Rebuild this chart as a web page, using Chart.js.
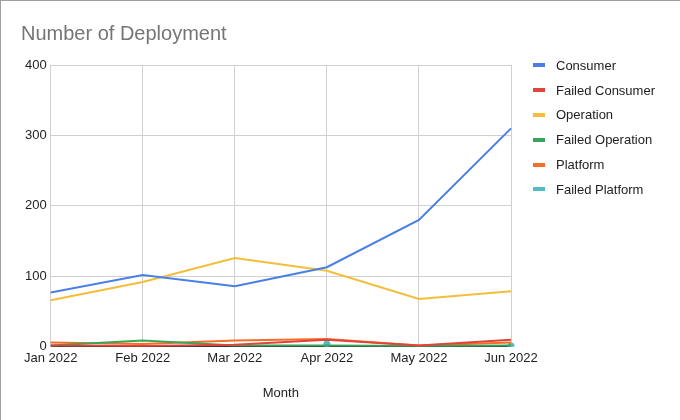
<!DOCTYPE html>
<html>
<head>
<meta charset="utf-8">
<script src="https://cdn.jsdelivr.net/npm/chart.js@4.4.1/dist/chart.umd.min.js"></script>
<style>
  html, body { margin: 0; padding: 0; background: #fff; }
  #wrap { position: relative; width: 679px; height: 419px; border-top: 1px solid #9e9e9e; border-left: 1px solid #9e9e9e; }
  #legend { position: absolute; left: 532px; top: 52px; font: 13px Arial, 'Liberation Sans', sans-serif; color: #222; }
  #legend div { height: 24.8px; display: flex; align-items: center; }
  #legend span.mark { display: inline-block; width: 12px; height: 4px; margin-right: 11px; }
</style>
</head>
<body>
<div id="wrap"><canvas id="chart"></canvas><div id="legend"></div></div>
<script>
// months on the x axis
const months = ["Jan 2022", "Feb 2022", "Mar 2022", "Apr 2022", "May 2022", "Jun 2022"];

// deployments per series
const consumer = [77, 102, 86, 113, 180, 310];
const failedConsumer = [2, 1, 3, 10, 2, 10];
const operation = [66, 92, 126, 108, 68, 79];
const failedOperation = [2, 9, 2, 2, 1, 2];
const platform = [6, 4, 9, 11, 2, 6];
const failedPlatform = [null, null, null, 4, null, 1];

const yTicks = [0, 100, 200, 300, 400];

const font = "Arial, 'Liberation Sans', sans-serif";

// a point that has no neighbour gets a dot, like Sheets does
function lonely(ctx) {
  const d = ctx.dataset.data;
  const i = ctx.dataIndex;
  if (d[i] == null) return 0;
  const prev = i > 0 ? d[i - 1] : null;
  const next = i < d.length - 1 ? d[i + 1] : null;
  return (prev == null && next == null) ? 2.5 : 0;
}

function series(label, data, color) {
  return {
    label,
    data,
    borderColor: color,
    backgroundColor: color,
    borderWidth: 2,
    pointRadius: lonely,
    pointHoverRadius: 0,
    tension: 0
  };
}

const chart = new Chart(document.getElementById("chart"), {
  type: "line",
  data: {
    labels: months,
    datasets: [
      series("Consumer", consumer, "#4a7fe6"),
      series("Failed Consumer", failedConsumer, "#e0443a"),
      series("Operation", operation, "#f4be3a"),
      series("Failed Operation", failedOperation, "#38a55a"),
      series("Platform", platform, "#f66d26"),
      series("Failed Platform", failedPlatform, "#4fbcc6")
    ]
  },
  options: {
    responsive: true,
    maintainAspectRatio: false,
    animation: false,
    layout: { padding: { left: 20, right: 169, top: 0, bottom: 15 } },
    plugins: {
      title: {
        display: true,
        text: "Number of Deployment",
        align: "start",
        color: "#757575",
        font: { family: font, size: 20, weight: "normal" },
        padding: { top: 21, bottom: 19 }
      },
      legend: { display: false },
      tooltip: { enabled: false }
    },
    scales: {
      x: {
        offset: false,
        grid: { color: "#d0d0d0", drawTicks: false },
        border: { display: false },
        ticks: { color: "#222", padding: 4, maxRotation: 0, font: { family: font, size: 13 } },
        title: {
          display: true,
          text: "Month",
          color: "#222",
          font: { family: font, size: 13 },
          padding: { top: 15 }
        }
      },
      y: {
        min: 0,
        max: 400,
        afterBuildTicks: axis => { axis.ticks = yTicks.map(v => ({ value: v })); },
        grid: {
          color: ctx => ctx.tick && ctx.tick.value === 0 ? "#333" : "#d0d0d0",
          drawTicks: false
        },
        border: { display: false },
        ticks: { color: "#222", padding: 4, font: { family: font, size: 13 } }
      }
    }
  }
});

// legend on the right, built from the datasets
const legendDiv = document.getElementById("legend");
chart.data.datasets.forEach(ds => {
  const row = document.createElement("div");
  row.innerHTML = `<span class="mark" style="background:${ds.borderColor}"></span>${ds.label}`;
  legendDiv.appendChild(row);
});
</script>
</body>
</html>
